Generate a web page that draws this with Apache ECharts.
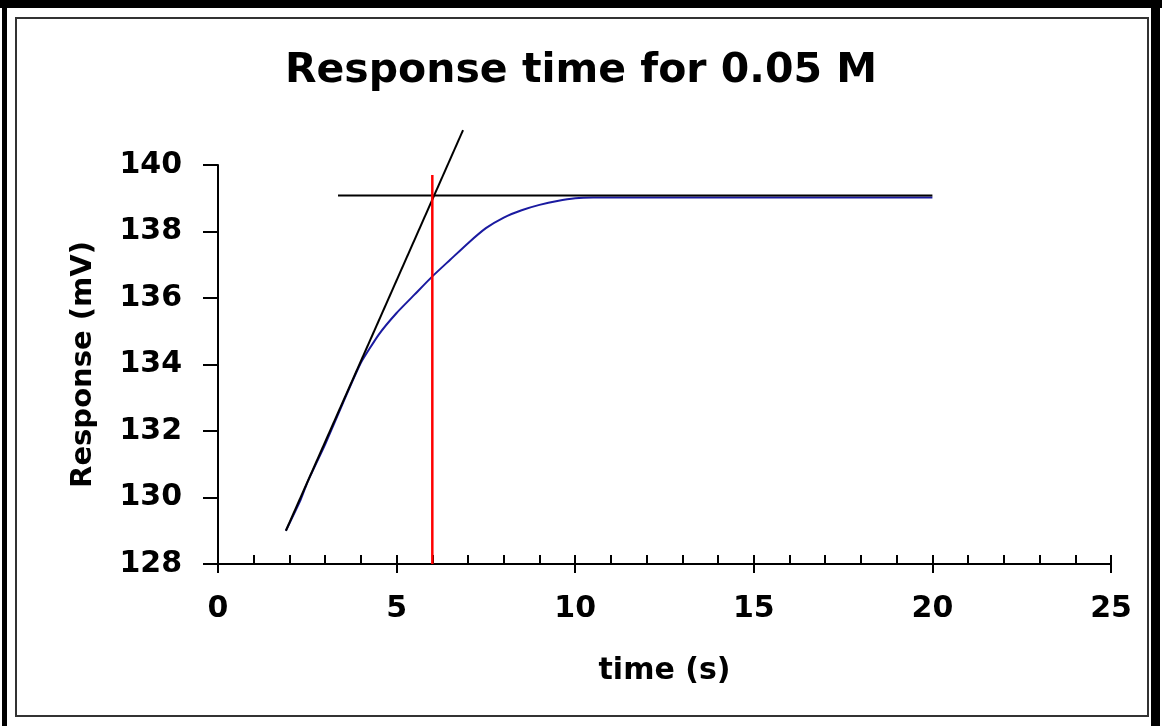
<!DOCTYPE html>
<html>
<head>
<meta charset="utf-8">
<script src="https://cdn.jsdelivr.net/npm/echarts@6/dist/echarts.min.js"></script>
<style>
html,body{margin:0;padding:0;background:#fff;}
#chart{width:1162px;height:726px;}
</style>
</head>
<body>
<div id="chart"></div>
<script>
// ---- data ----
const titleText = 'Response time for 0.05 M';
const xName = 'time (s)';
const yName = 'Response (mV)';
const times = [1.9, 2.3, 2.5, 3, 3.5, 4, 4.5, 5, 5.5, 6, 6.5, 7, 7.5, 8, 8.5, 9, 9.5, 10, 10.5, 11, 12, 13, 14, 15, 16, 17, 18, 19, 20];
const response = [129.0, 129.9, 130.45, 131.6, 132.85, 134.05, 134.9, 135.55, 136.1, 136.65, 137.15, 137.65, 138.1, 138.42, 138.64, 138.8, 138.92, 139.0, 139.02, 139.02, 139.02, 139.02, 139.02, 139.02, 139.02, 139.02, 139.02, 139.02, 139.02];
const tangentX = [1.9, 6.86];
const tangentY = [129.0, 141.05];
const plateauX = [3.36, 20];
const plateauY = [139.08, 139.08];
const markerX = [6, 6];
const markerY = [128, 139.7];

const pair = (xs, ys) => xs.map((x, i) => [x, ys[i]]);
const FONT = 'DejaVu Sans';

const chart = echarts.init(document.getElementById('chart'), null, {renderer: 'canvas'});
chart.setOption({
  animation: false,
  backgroundColor: '#fff',
  title: {
    text: titleText,
    left: 'center',
    top: 46,
    textStyle: {fontFamily: FONT, fontWeight: 'bold', fontSize: 41, color: '#000'}
  },
  graphic: [
    {type: 'rect', shape: {x: 0, y: 0, width: 1162, height: 8}, style: {fill: '#000'}, silent: true},
    {type: 'rect', shape: {x: 2, y: 0, width: 5, height: 726}, style: {fill: '#000'}, silent: true},
    {type: 'rect', shape: {x: 1151, y: 0, width: 9, height: 726}, style: {fill: '#000'}, silent: true},
    {type: 'rect', shape: {x: 16, y: 18, width: 1132, height: 698}, style: {fill: 'none', stroke: '#333', lineWidth: 2}, silent: true}
  ],
  grid: {left: 218, right: 51, top: 165, bottom: 162, containLabel: false},
  xAxis: [
    {
      type: 'value', min: 0, max: 25, interval: 5,
      name: xName, nameLocation: 'middle', nameGap: 92,
      nameTextStyle: {fontFamily: FONT, fontWeight: 'bold', fontSize: 30, color: '#000'},
      axisLine: {show: true, onZero: false, lineStyle: {color: '#000', width: 2}},
      axisTick: {show: true, inside: true, length: 9, lineStyle: {color: '#000', width: 2}},
      minorTick: {show: true, splitNumber: 5, length: 9, lineStyle: {color: '#000', width: 2}},
      axisLabel: {margin: 30, fontFamily: FONT, fontWeight: 'bold', fontSize: 30, color: '#000'},
      splitLine: {show: false}
    },
    {
      type: 'value', min: 0, max: 25, interval: 5, position: 'bottom',
      axisLine: {show: false, onZero: false},
      axisTick: {show: true, inside: false, length: 9, lineStyle: {color: '#000', width: 2}},
      axisLabel: {show: false},
      splitLine: {show: false}
    }
  ],
  yAxis: {
    type: 'value', min: 128, max: 140, interval: 2,
    name: yName, nameLocation: 'middle', nameGap: 120,
    nameTextStyle: {fontFamily: FONT, fontWeight: 'bold', fontSize: 29, color: '#000'},
    axisLine: {show: true, lineStyle: {color: '#000', width: 2}},
    axisTick: {show: true, inside: false, length: 15, lineStyle: {color: '#000', width: 2}},
    axisLabel: {margin: 36, fontFamily: FONT, fontWeight: 'bold', fontSize: 30, color: '#000'},
    splitLine: {show: false}
  },
  series: [
    {
      type: 'line', data: pair(times, response), showSymbol: false, smooth: 0.15,
      lineStyle: {color: '#1a1aa0', width: 2}, z: 3
    },
    {
      type: 'line', data: pair(plateauX, plateauY), showSymbol: false,
      lineStyle: {color: '#000', width: 2}, z: 4
    },
    {
      type: 'line', data: pair(tangentX, tangentY), showSymbol: false, clip: false,
      lineStyle: {color: '#000', width: 2}, z: 4
    },
    {
      type: 'line', data: pair(markerX, markerY), showSymbol: false,
      lineStyle: {color: '#ff0000', width: 2.5}, z: 5
    }
  ]
});
</script>
</body>
</html>
